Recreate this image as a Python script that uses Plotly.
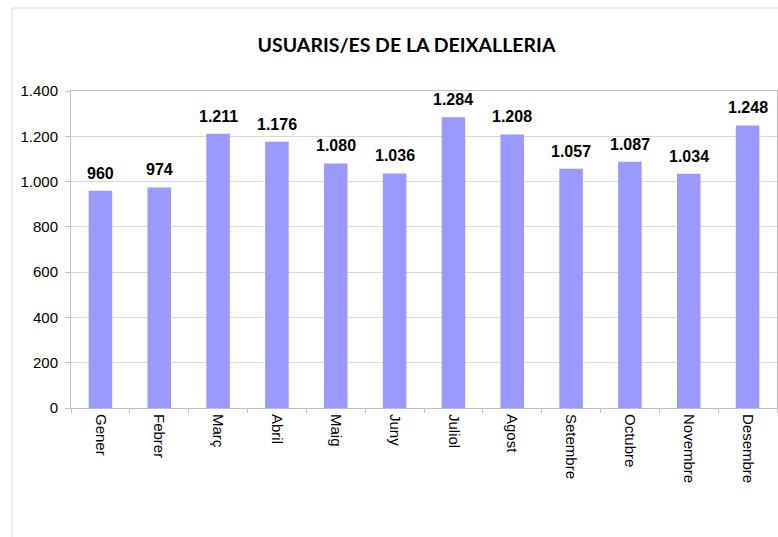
import plotly.graph_objects as go

months = ["Gener", "Febrer", "Març", "Abril", "Maig", "Juny", "Juliol",
          "Agost", "Setembre", "Octubre", "Novembre", "Desembre"]
users = [960, 974, 1211, 1176, 1080, 1036, 1284, 1208, 1057, 1087, 1034, 1248]
y_ticks = [0, 200, 400, 600, 800, 1000, 1200, 1400]
title_text = "USUARIS/ES DE LA DEIXALLERIA"

W, H = 778, 537
L, R, T, B = 71, 1, 91, 129
pw = W - L - R
ph = H - T - B


def px_x(xp):
    return (xp - L) / pw


def px_y(yp):
    return (H - B - yp) / ph


fig = go.Figure()
fig.add_trace(go.Bar(
    x=months, y=users, width=0.4,
    marker=dict(color="#9999FF", line=dict(width=0)),
    hoverinfo="x+y",
))

for m, v in zip(months, users):
    fig.add_annotation(
        x=m, y=v, xref="x", yref="y",
        text="<b>" + f"{v:,}".replace(",", ".") + "</b>",
        showarrow=False, yanchor="bottom", yshift=7,
        font=dict(family="Liberation Sans, Arial, sans-serif", size=16, color="black"),
    )

fig.add_shape(
    type="rect", xref="paper", yref="paper",
    x0=px_x(12), x1=px_x(W + 20),
    y0=px_y(H + 20), y1=px_y(8),
    line=dict(color="#D9D9D9", width=1), layer="below",
)

fig.update_layout(
    width=W, height=H,
    margin=dict(l=L, r=R, t=T, b=B, pad=0),
    paper_bgcolor="white", plot_bgcolor="white",
    separators=",.",
    showlegend=False,
    title=dict(
        text="<b>" + title_text + "</b>",
        x=406.5 / W, xanchor="center",
        y=1 - 45 / H, yanchor="middle",
        font=dict(family="Lato, sans-serif", size=19.5, color="black"),
    ),
    font=dict(family="Liberation Sans, Arial, sans-serif", size=15, color="black"),
    xaxis=dict(
        type="category",
        tickangle=90,
        ticks="outside", ticklen=4, tickcolor="#BFBFBF",
        tickson="boundaries",
        ticklabelstandoff=2,
        showline=True, linecolor="#BFBFBF", linewidth=1, mirror=True,
        showgrid=False,
        tickfont=dict(size=15),
    ),
    yaxis=dict(
        range=[0, 1400],
        tickvals=y_ticks,
        tickformat=",d",
        ticks="outside", ticklen=5, tickcolor="#BFBFBF",
        ticklabelstandoff=4,
        showline=True, linecolor="#BFBFBF", linewidth=1, mirror=True,
        showgrid=True, gridcolor="#D9D9D9", gridwidth=1,
        zeroline=False,
        tickfont=dict(size=15),
    ),
)

fig.write_html("out.html")
